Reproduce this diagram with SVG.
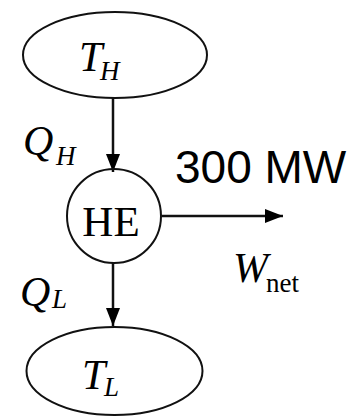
<svg xmlns="http://www.w3.org/2000/svg" width="353" height="416" viewBox="0 0 353 416">
<style>
.shape{fill:none;stroke:#111;stroke-width:2}
.conn{stroke:#111;stroke-width:2.5;fill:none}
.it{font-family:"Liberation Serif",serif;font-style:italic;fill:#000}
.rm{font-family:"Liberation Serif",serif;fill:#000}
.sans{font-family:"Liberation Sans",Arial,sans-serif;fill:#000}
</style>
<defs>
<marker id="arr" viewBox="0 0 18 14" refX="18" refY="7" markerWidth="18" markerHeight="14" markerUnits="userSpaceOnUse" orient="auto">
<path d="M0,0 L18,7 L0,14 Z" fill="#000"/>
</marker>
</defs>
<rect width="353" height="416" fill="#fff"/>
<g id="connectors">
<line class="conn" x1="113" y1="98" x2="113" y2="172" marker-end="url(#arr)"/>
<line class="conn" x1="162" y1="216" x2="283" y2="216" stroke="#555" marker-end="url(#arr)"/>
<line class="conn" x1="113" y1="262" x2="113" y2="326" marker-end="url(#arr)"/>
</g>
<g id="TH">
<ellipse class="shape" cx="115" cy="55" rx="92" ry="43"/>
<text class="it" x="79" y="71" font-size="42">T</text>
<text class="it" x="100" y="80" font-size="27">H</text>
</g>
<g id="HE">
<circle class="shape" cx="114" cy="216" r="47"/>
<text class="rm" x="111" y="236" font-size="43" text-anchor="middle">HE</text>
</g>
<g id="TL">
<ellipse class="shape" cx="114.5" cy="371" rx="88" ry="44"/>
<text class="it" x="82" y="389" font-size="42">T</text>
<text class="it" x="104" y="396" font-size="27">L</text>
</g>
<g id="labels">
<text class="it" x="23" y="155" font-size="42">Q</text>
<text class="it" x="56" y="165" font-size="27">H</text>
<text class="it" x="20" y="306" font-size="42">Q</text>
<text class="it" x="52" y="308" font-size="27">L</text>
<text class="it" x="233" y="282" font-size="42">W</text>
<text class="rm" x="266" y="292" font-size="27">net</text>
<text class="sans" x="175" y="183" font-size="46">300 MW</text>
</g>
</svg>
